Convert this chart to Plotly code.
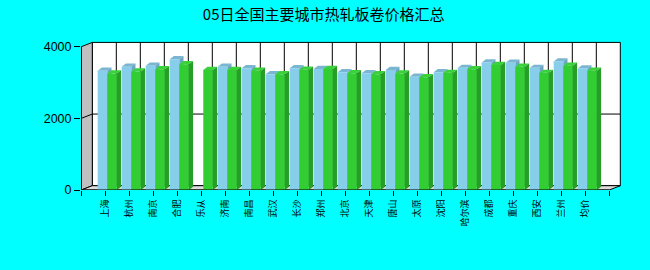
import plotly.graph_objects as go

# ---------------- data ----------------
categories = ["上海", "杭州", "南京", "合肥", "乐从", "济南", "南昌", "武汉", "长沙", "郑州",
              "北京", "天津", "唐山", "太原", "沈阳", "哈尔滨", "成都", "重庆", "西安", "兰州", "均价"]
series_a = [3330, 3440, 3470, 3650, None, 3440, 3400, 3230, 3400, 3380,
            3290, 3260, 3350, 3160, 3290, 3410, 3560, 3550, 3410, 3590, 3390]
series_b = [3250, 3310, 3370, 3510, 3350, 3350, 3330, 3230, 3360, 3380,
            3260, 3230, 3250, 3150, 3270, 3370, 3490, 3440, 3270, 3470, 3330]
y_ticks = [0, 2000, 4000]
title_text = "05日全国主要城市热轧板卷价格汇总"

# ---------------- geometry (style) ----------------
W, H = 650, 270
L, R, T, B = 81, 622, 40, 190          # plot area in px
PX_PER_CAT = 24.0
X0_PX = 105.3                          # px of category index 0
PX_PER_VAL = 143.3 / 4000.0
x_lo = (L - X0_PX) / PX_PER_CAT
x_hi = x_lo + (R - L) / PX_PER_CAT
y_hi = (B - T) / PX_PER_VAL
n = len(categories)

wall_dx = 11 / PX_PER_CAT              # depth of the chart box
wall_dy = 4.3 / PX_PER_VAL
bar_dx = 4.2 / PX_PER_CAT              # depth of each bar
bar_dy = 3.2 / PX_PER_VAL
bar_w = 0.40
bar_shift = 0.083
ax_l, ax_r = -1, n                     # front axis extent (category units)
y_top = y_ticks[-1]

fig = go.Figure()


def poly(xs, ys, fill, line_color=None, width=0):
    fig.add_trace(go.Scatter(
        x=xs, y=ys, mode="lines", fill="toself", fillcolor=fill,
        line=dict(color=line_color or fill, width=width),
        hoverinfo="skip", showlegend=False, cliponaxis=False))


def lines(xs, ys, color="black", width=1):
    fig.add_trace(go.Scatter(
        x=xs, y=ys, mode="lines", line=dict(color=color, width=width),
        hoverinfo="skip", showlegend=False, cliponaxis=False))


# back wall
poly([ax_l + wall_dx, ax_r + wall_dx, ax_r + wall_dx, ax_l + wall_dx, ax_l + wall_dx],
     [wall_dy, wall_dy, y_top + wall_dy, y_top + wall_dy, wall_dy], "white", "black", 1)
# left wall
poly([ax_l, ax_l, ax_l + wall_dx, ax_l + wall_dx, ax_l],
     [0, y_top, y_top + wall_dy, wall_dy, 0], "#C0C0C0", "black", 1)
# floor
poly([ax_l, ax_r, ax_r + wall_dx, ax_l + wall_dx, ax_l],
     [0, 0, wall_dy, wall_dy, 0], "#DCDCDC", "black", 1)

# grid lines on walls
gx, gy = [], []
for v in y_ticks[1:-1]:
    gx += [ax_l, ax_l + wall_dx, ax_r + wall_dx, None]
    gy += [v, v + wall_dy, v + wall_dy, None]
for i in range(n):
    gx += [i + wall_dx, i + wall_dx, None]
    gy += [wall_dy, y_top + wall_dy, None]
lines(gx, gy)


# 3D bars
def bar_faces(values, left_off):
    top_x, top_y, side_x, side_y, fr_x, fr_y = [], [], [], [], [], []
    for i, v in enumerate(values):
        if v is None:
            continue
        x0 = i + bar_shift + left_off
        x1 = x0 + bar_w
        top_x += [x0, x1, x1 + bar_dx, x0 + bar_dx, x0, None]
        top_y += [v, v, v + bar_dy, v + bar_dy, v, None]
        side_x += [x1, x1 + bar_dx, x1 + bar_dx, x1, x1, None]
        side_y += [0, bar_dy, v + bar_dy, v, 0, None]
        fr_x += [x0, x1, x1, x0, x0, None]
        fr_y += [0, 0, v, v, 0, None]
    return (top_x, top_y), (side_x, side_y), (fr_x, fr_y)


for vals, off, (c_top, c_side, c_front) in [
        (series_a, -bar_w, ("#79B6D2", "#6CA6C0", "#87CEEB")),
        (series_b, 0.0, ("#3AD23A", "#279E27", "#32CD32"))]:
    top, side, front = bar_faces(vals, off)
    poly(*top, c_top)
    poly(*side, c_side)
    poly(*front, c_front)

# front axis lines
lines([ax_l, ax_l, None, ax_l, ax_r], [0, y_top, None, 0, 0])

fig.update_layout(
    width=W, height=H,
    margin=dict(l=L, r=W - R, t=T, b=H - B, pad=0),
    paper_bgcolor="#00FFFF", plot_bgcolor="rgba(0,0,0,0)",
    showlegend=False,
    title=dict(text=title_text, x=0.498, xanchor="center", xref="container",
               y=1 - 15 / H, yanchor="middle", yref="container",
               font=dict(family="Noto Sans CJK SC", size=15, color="black")),
    xaxis=dict(range=[x_lo, x_hi], showgrid=False, zeroline=False, showline=False,
               tickmode="array", tickvals=list(range(ax_l, ax_r + 1)),
               ticktext=[""] + categories + [""],
               tickangle=-90, ticks="outside", ticklen=5, tickcolor="black", tickwidth=1,
               tickfont=dict(family="Noto Sans CJK SC", size=9, color="black")),
    yaxis=dict(range=[0, y_hi], showgrid=False, zeroline=False, showline=False,
               tickmode="array", tickvals=y_ticks, ticktext=[str(v) for v in y_ticks],
               ticks="outside", ticklen=6, tickcolor="black", tickwidth=1,
               tickfont=dict(family="Liberation Sans, Arial", size=12.5, color="black")),
)

fig.write_html("out.html")
